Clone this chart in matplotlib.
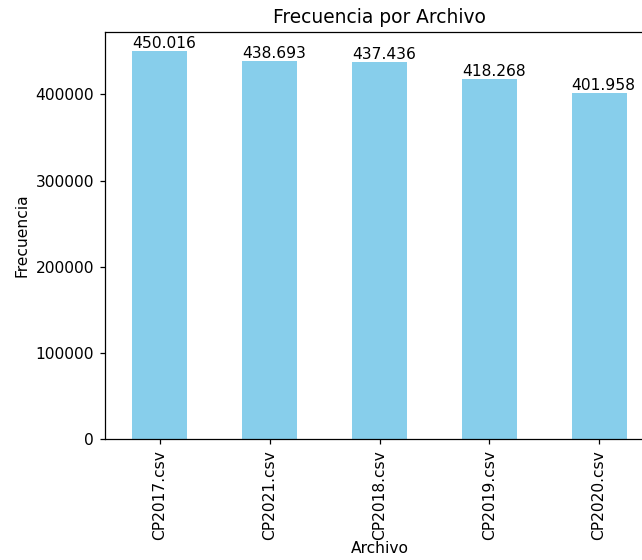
import matplotlib
matplotlib.use("Agg")
from matplotlib import pyplot as plt

# Data
archivos = ["CP2017.csv", "CP2021.csv", "CP2018.csv", "CP2019.csv", "CP2020.csv"]
frecuencias = [450016, 438693, 437436, 418268, 401958]

DPI = 112
fig = plt.figure(figsize=(642 / DPI, 560 / DPI), dpi=DPI)
ax = fig.add_axes([105 / 642, 1 - 439 / 560, 549 / 642, (439 - 32) / 560])

x = list(range(len(archivos)))
bars = ax.bar(x, frecuencias, width=0.5, color="skyblue")
ax.set_xlim(-0.5, len(archivos) - 0.5)

# Labels on top of each bar, thousands with dot
for b, v in zip(bars, frecuencias):
    ax.annotate(f"{v:,}".replace(",", "."), (b.get_x(), b.get_height()),
                ha="left", va="bottom", fontsize=10)

ax.set_xticks(x)
ax.set_xticklabels(archivos, rotation=90)
ax.set_title("Frecuencia por Archivo")
ax.set_xlabel("Archivo", labelpad=1)
ax.set_ylabel("Frecuencia")

fig.savefig("out.png", dpi=DPI)
